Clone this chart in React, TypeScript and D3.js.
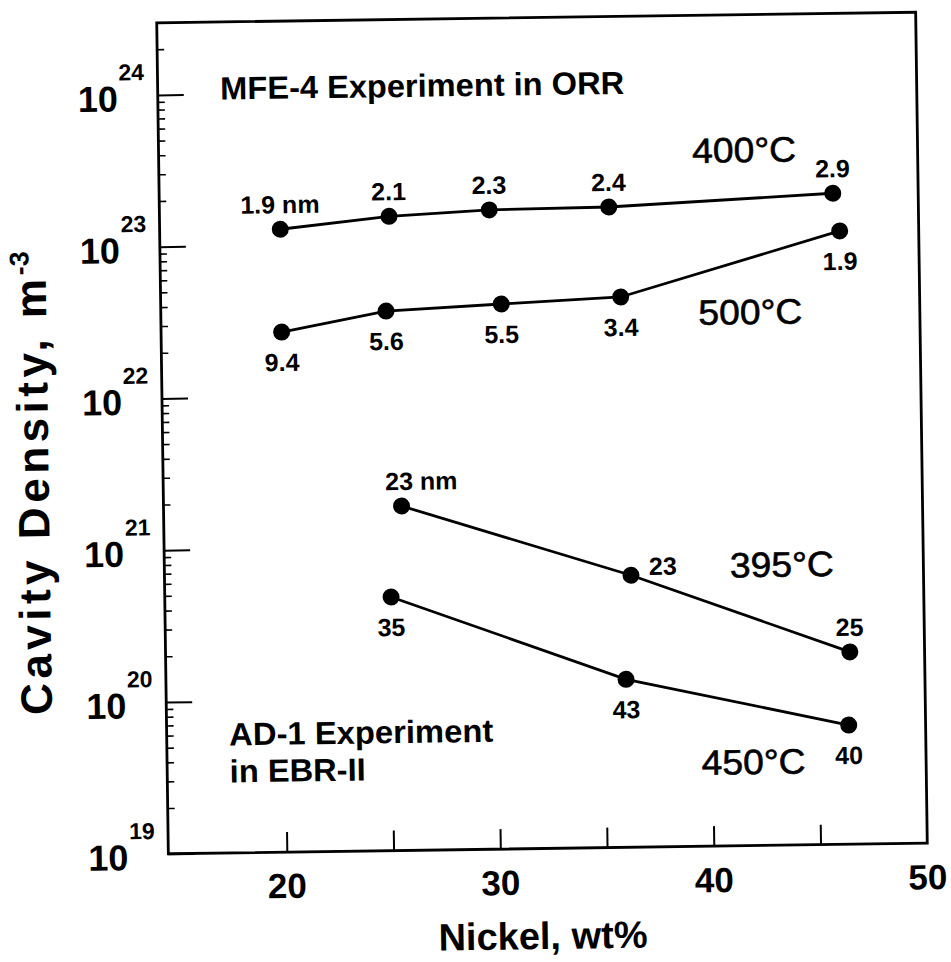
import React, { useEffect, useRef } from "react";
import * as d3 from "d3";

// Nickel content (wt%) and cavity density (m^-3)
const nickel400 = [20.1, 25.2, 29.9, 35.5, 46.0];
const density400 = [1.27e23, 1.51e23, 1.63e23, 1.66e23, 1.95e23];
const size400 = ["1.9 nm", "2.1", "2.3", "2.4", "2.9"];
const side400 = ["above", "above", "above", "above", "above"];

const nickel500 = [20.1, 25.0, 30.4, 36.0, 46.3];
const density500 = [2.67e22, 3.59e22, 3.9e22, 4.23e22, 1.1e23];
const size500 = ["9.4", "5.6", "5.5", "3.4", "1.9"];
const side500 = ["below", "below", "below", "below", "below"];

const nickel395 = [25.6, 36.3, 46.5];
const density395 = [1.86e21, 6.2e20, 1.85e20];
const size395 = ["23 nm", "23", "25"];
const side395 = ["aboveRight", "right", "above"];

const nickel450 = [25.05, 36.0, 46.4];
const density450 = [4.69e20, 1.28e20, 6.1e19];
const size450 = ["35", "43", "40"];
const side450 = ["below", "below", "below"];

const xTicks = [20, 25, 30, 35, 40, 45];
const xLabels = [20, 30, 40, 50];
const yExponents = [19, 20, 21, 22, 23, 24];

const W = 951;
const H = 962;
const frame = { left: 162.5, right: 921.5, top: 17.5, bottom: 848.5 };
const tilt = -0.8; // the scanned page sits slightly crooked
const font = "'Liberation Sans', Arial, Helvetica, sans-serif";

const offsets: Record<string, { dx: number; dy: number; anchor: string }> = {
  above: { dx: 0, dy: -16, anchor: "middle" },
  below: { dx: 0, dy: 39, anchor: "middle" },
  right: { dx: 18, dy: 0, anchor: "start" },
  aboveRight: { dx: -16, dy: -16, anchor: "start" },
};

const App = () => {
  const chart = useRef<SVGSVGElement>(null);

  useEffect(() => {
    const svg = d3.select(chart.current);
    svg.selectAll("*").remove();

    const cx = (frame.left + frame.right) / 2;
    const cy = (frame.top + frame.bottom) / 2;
    const g = svg
      .append("g")
      .attr("transform", `rotate(${tilt}, ${cx}, ${cy})`)
      .attr("font-family", font);

    const x = d3.scaleLinear().domain([14.45, 50]).range([frame.left, frame.right]);
    const y = d3
      .scaleLog()
      .domain([1e19, Math.pow(10, 24.475)])
      .range([frame.bottom, frame.top]);

    // y axis ticks, pointing inward
    const major = yExponents.map((e) => Math.pow(10, e));
    const minor = yExponents
      .flatMap((e) => d3.range(2, 10).map((m) => m * Math.pow(10, e)))
      .filter((v) => v < y.domain()[1]);

    g.append("g")
      .attr("transform", `translate(${frame.left},0)`)
      .call(d3.axisRight(y).tickValues(minor).tickSize(7).tickFormat(() => ""))
      .call((a) => a.select(".domain").remove())
      .call((a) => a.selectAll("line").attr("stroke-width", 1.6));

    g.append("g")
      .attr("transform", `translate(${frame.left},0)`)
      .call(d3.axisRight(y).tickValues(major).tickSize(26).tickFormat(() => ""))
      .call((a) => a.select(".domain").remove())
      .call((a) => a.selectAll("line").attr("stroke-width", 2));

    // x axis ticks, pointing up
    g.append("g")
      .attr("transform", `translate(0,${frame.bottom})`)
      .call(d3.axisTop(x).tickValues(xTicks).tickSize(20).tickFormat(() => ""))
      .call((a) => a.select(".domain").remove())
      .call((a) => a.selectAll("line").attr("stroke-width", 2));

    // frame
    g.append("rect")
      .attr("x", frame.left)
      .attr("y", frame.top)
      .attr("width", frame.right - frame.left)
      .attr("height", frame.bottom - frame.top)
      .attr("fill", "none")
      .attr("stroke", "#000")
      .attr("stroke-width", 2.8);

    // y tick labels: 10 with a superscript exponent
    yExponents.forEach((e) => {
      const ty = y(Math.pow(10, e));
      g.append("text")
        .attr("x", frame.left - 40)
        .attr("y", ty + 16)
        .attr("text-anchor", "end")
        .attr("font-size", 36)
        .attr("font-weight", "bold")
        .text("10");
      g.append("text")
        .attr("x", frame.left - 39)
        .attr("y", ty - 15)
        .attr("font-size", 23)
        .attr("font-weight", "bold")
        .text(e);
    });

    // x tick labels
    g.selectAll(".xlab")
      .data(xLabels)
      .join("text")
      .attr("x", (d) => x(d))
      .attr("y", frame.bottom + 46)
      .attr("text-anchor", "middle")
      .attr("font-size", 35)
      .attr("font-weight", "bold")
      .text((d) => d);

    // axis titles
    g.append("text")
      .attr("x", 536)
      .attr("y", 949)
      .attr("text-anchor", "middle")
      .attr("font-size", 38)
      .attr("font-weight", "bold")
      .text("Nickel, wt%");

    g.append("text")
      .attr("transform", "translate(48,708) rotate(-90)")
      .attr("font-size", 44)
      .attr("font-weight", "bold")
      .attr("textLength", 436)
      .attr("lengthAdjust", "spacing")
      .text("Cavity Density, m");
    g.append("text")
      .attr("transform", "translate(31,268) rotate(-90)")
      .attr("font-size", 27)
      .attr("font-weight", "bold")
      .text("-3");

    // series
    const series = [
      { x: nickel400, y: density400, labels: size400, side: side400 },
      { x: nickel500, y: density500, labels: size500, side: side500 },
      { x: nickel395, y: density395, labels: size395, side: side395 },
      { x: nickel450, y: density450, labels: size450, side: side450 },
    ];

    series.forEach((s) => {
      const pts: [number, number][] = s.x.map((v, i) => [x(v), y(s.y[i])]);
      g.append("path")
        .attr("d", d3.line()(pts))
        .attr("fill", "none")
        .attr("stroke", "#000")
        .attr("stroke-width", 2.8);
      g.selectAll(null)
        .data(pts)
        .join("circle")
        .attr("cx", (d) => d[0])
        .attr("cy", (d) => d[1])
        .attr("r", 8.5)
        .attr("fill", "#000");
      g.selectAll(null)
        .data(pts)
        .join("text")
        .attr("x", (d, i) => d[0] + offsets[s.side[i]].dx)
        .attr("y", (d, i) => d[1] + offsets[s.side[i]].dy)
        .attr("text-anchor", (d, i) => offsets[s.side[i]].anchor)
        .attr("font-size", 25)
        .attr("font-weight", "bold")
        .text((d, i) => s.labels[i]);
    });

    // temperature labels
    const temps: [string, number, number][] = [
      ["400°C", 696, 165],
      ["500°C", 700, 327],
      ["395°C", 728, 580],
      ["450°C", 697, 777],
    ];
    temps.forEach(([t, tx, ty]) => {
      g.append("text")
        .attr("x", tx)
        .attr("y", ty)
        .attr("font-size", 35)
        .attr("stroke", "#000")
        .attr("stroke-width", 0.6)
        .attr("textLength", 104)
        .attr("lengthAdjust", "spacingAndGlyphs")
        .text(t);
    });

    // experiment notes
    g.append("text")
      .attr("x", 225)
      .attr("y", 95)
      .attr("font-size", 32)
      .attr("font-weight", "bold")
      .attr("textLength", 404)
      .attr("lengthAdjust", "spacingAndGlyphs")
      .text("MFE-4 Experiment in ORR");
    g.append("text")
      .attr("x", 225)
      .attr("y", 741)
      .attr("font-size", 32)
      .attr("font-weight", "bold")
      .attr("textLength", 264)
      .attr("lengthAdjust", "spacingAndGlyphs")
      .text("AD-1 Experiment");
    g.append("text")
      .attr("x", 225)
      .attr("y", 778)
      .attr("font-size", 32)
      .attr("font-weight", "bold")
      .attr("textLength", 136)
      .attr("lengthAdjust", "spacingAndGlyphs")
      .text("in EBR-II");
  });

  return (
    <div style={{ position: "absolute", left: 0, top: 0 }}>
      <svg ref={chart} width={W} height={H} style={{ display: "block", background: "#fff" }}></svg>
    </div>
  );
};

export default App;
